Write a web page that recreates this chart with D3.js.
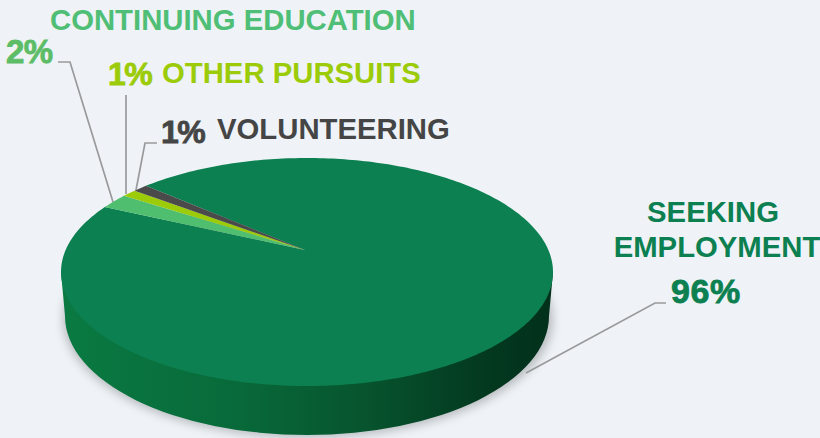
<!DOCTYPE html>
<html><head><meta charset="utf-8">
<script src="https://cdn.jsdelivr.net/npm/d3@7/dist/d3.min.js"></script>
<style>html,body{margin:0;padding:0;background:#eff3f7;overflow:hidden}svg{display:block}
text{font-family:"Liberation Sans",Arial,sans-serif;font-weight:700}</style></head><body>
<svg id="c" width="820" height="438"></svg>
<script>
const categories=["Seeking Employment","Continuing Education","Other Pursuits","Volunteering"];
const values=[96,2,1,1];
const colors=["#0c8050","#4fbe6e","#9ccb0a","#4a4a4a"];
const labelLines=[
 {t:"CONTINUING EDUCATION",x:50,y:30,s:29.3,c:"#4fbe76"},
 {t:"OTHER PURSUITS",x:162,y:83,s:29.3,c:"#9ccb0a"},
 {t:"VOLUNTEERING",x:217,y:139,s:29.3,c:"#454545"},
 {t:"SEEKING",x:713,y:222,s:29.3,c:"#0c8050",a:"middle"},
 {t:"EMPLOYMENT",x:717,y:257,s:29.3,c:"#0c8050",a:"middle"}];
const pctLabels=[
 {t:"2%",x:6,y:63,s:33,ls:-.5,c:"#5dbd67"},
 {t:"1%",x:108,y:85,s:32,ls:-1.5,c:"#9ccb0a"},
 {t:"1%",x:161,y:143,s:32,ls:-1.5,c:"#454545"},
 {t:"96%",x:671,y:303,s:34,ls:.6,c:"#0c8050"}];
const leaders=[
 [[58,62],[70,62],[113,202]],
 [[126,95],[126,194]],
 [[157,143],[145,143],[136,190]],
 [[666,303],[655,303],[526,373]]];
const face={cx:307,cy:272,rx:246,ry:114}, apex=[305,250], wall={cx:307,cy:316,rx:242,ry:119};
const svg=d3.select("#c"), defs=svg.append("defs");
const toRad=d=>d*Math.PI/180;
const g=defs.append("linearGradient").attr("id","side");
[[0,"#0a7a42"],[.35,"#086a3a"],[.62,"#07542e"],[.85,"#033a20"],[1,"#02301b"]].forEach(([o,c])=>g.append("stop").attr("offset",o).attr("stop-color",c));
defs.append("filter").attr("id","blur").attr("x","-10%").attr("y","-10%").attr("width","120%").attr("height","130%")
 .append("feGaussianBlur").attr("stdDeviation",5);
// shadow and side wall
svg.append("ellipse").attr("cx",wall.cx+1).attr("cy",wall.cy+3).attr("rx",wall.rx+3).attr("ry",wall.ry)
 .attr("fill","#8a8f92").attr("opacity",.55).attr("filter","url(#blur)");
svg.append("path").attr("fill","url(#side)")
 .attr("d",`M${face.cx-face.rx},${face.cy}L${wall.cx-wall.rx},${wall.cy}A${wall.rx},${wall.ry} 0 0 0 ${wall.cx+wall.rx},${wall.cy}L${face.cx+face.rx},${face.cy}Z`);
// top face
const pie=d3.pie().sort(null).startAngle(toRad(-40.9)).endAngle(toRad(319.1));
const rim=a=>[face.cx+face.rx*Math.sin(a),face.cy-face.ry*Math.cos(a)];
const line=d3.line();
const wedges=pie(values);
svg.selectAll("path.slice").data(wedges).join("path").attr("class","slice")
 .attr("fill",(d,i)=>colors[i])
 .attr("d",d=>{
   const n=Math.max(4,Math.ceil((d.endAngle-d.startAngle)*60));
   const pts=d3.range(n+1).map(i=>rim(d.startAngle+(d.endAngle-d.startAngle)*i/n));
   return line([apex,...pts])+"Z";
 });
// leaders
svg.selectAll("path.leader").data(leaders).join("path").attr("class","leader")
 .attr("d",d=>line(d)).attr("fill","none").attr("stroke","#999a9c").attr("stroke-width",1.7);
// text
svg.selectAll("text.lab").data(labelLines).join("text").attr("class","lab")
 .text(d=>d.t).attr("x",d=>d.x).attr("y",d=>d.y).attr("font-size",d=>d.s).attr("fill",d=>d.c).attr("text-anchor",d=>d.a||"start");
svg.selectAll("text.pct").data(pctLabels).join("text").attr("class","pct")
 .text(d=>d.t).attr("x",d=>d.x).attr("y",d=>d.y).attr("font-size",d=>d.s).attr("fill",d=>d.c)
 .attr("letter-spacing",d=>d.ls)
 .attr("stroke",d=>d.c).attr("stroke-width",.8);
</script></body></html>
